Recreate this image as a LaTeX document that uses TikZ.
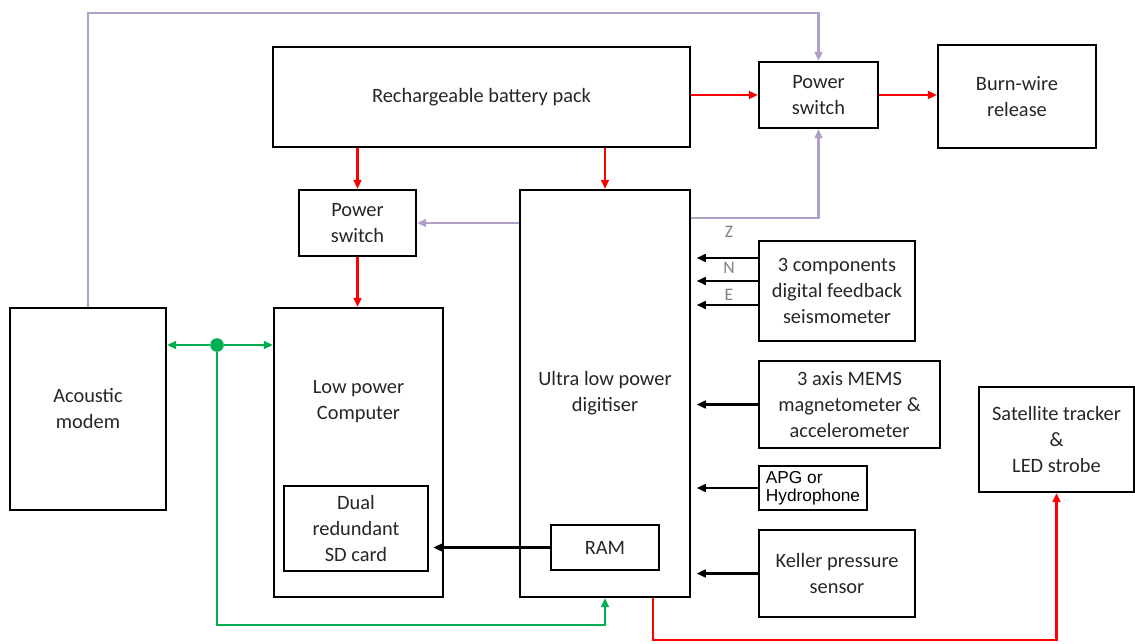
\documentclass[tikz,border=0pt]{standalone}
\usepackage{fontspec}
\setmainfont{Carlito}
\newfontfamily\arialfont{Liberation Sans}
\usetikzlibrary{arrows.meta}
\definecolor{txtgray}{RGB}{38,38,38}
\definecolor{lila}{RGB}{177,160,199}
\definecolor{grn}{RGB}{0,176,80}
\definecolor{rd}{RGB}{255,0,0}

\begin{document}
\begin{tikzpicture}[x=0.025cm, y=-0.025cm, >={Triangle[length=6.5pt,width=5.5pt]},
  box/.style={draw, rectangle, line width=1.4pt, inner sep=0pt, align=center, text=txtgray, font=\fontsize{14.5}{18.5}\selectfont},
  txt/.style={align=center, text=txtgray, font=\fontsize{14.5}{18.5}\selectfont},
  axis/.style={text=gray, font=\fontsize{12.5}{14}\selectfont},
  pw/.style={->, rd, line width=1.6pt},
  ctl/.style={->, lila, line width=1.6pt},
  dat/.style={->, black, line width=1.6pt, shorten >=4pt},
  com/.style={->, grn, line width=1.6pt}]
\useasboundingbox (0,0) rectangle (1135,643);

% blocks
\node (bat)  [box, minimum width=10.425cm, minimum height=2.5cm]   at (481.5,97)  {Rechargeable battery pack};
\node (sw1)  [box, minimum width=2.975cm,  minimum height=1.65cm]  at (818.5,95)  {Power\\switch};
\node (burn) [box, minimum width=3.95cm,   minimum height=2.575cm] at (1017,96.5) {Burn-wire\\release};
\node (sw2)  [box, minimum width=2.925cm,  minimum height=1.65cm]  at (357.5,223) {Power\\switch};
\node (dig)  [box, minimum width=4.25cm,   minimum height=10.175cm] at (605,393.5) {Ultra low power\\digitiser};
\node (modem)[box, minimum width=3.9cm,    minimum height=5.05cm]  at (88,409)    {Acoustic\\modem};
\node (comp) [box, minimum width=4.225cm,  minimum height=7.225cm] at (358.5,452.5) {};
\node (comptxt) [txt] at (358.5,402) {Low power\\Computer};
\node (sd)   [box, minimum width=3.6cm,    minimum height=2.125cm] at (356,528.5) {Dual\\redundant\\SD card};
\node (ram)  [box, minimum width=2.7cm,    minimum height=1.125cm] at (605,547.5) {RAM};
\node (seis) [box, minimum width=3.9cm,    minimum height=2.5cm]   at (837,291)   {3 components\\digital feedback\\seismometer};
\node (mems) [box, minimum width=4.525cm,  minimum height=2.175cm] at (849.5,404.5) {3 axis MEMS\\magnetometer \&\\accelerometer};
\node (apg)  [box, minimum width=2.7cm,    minimum height=1.1cm, align=left, text=black,
              font=\arialfont\fontsize{12.3}{13}\selectfont]       at (813,488)   {APG or\\Hydrophone};
\node (kel)  [box, minimum width=3.9cm,    minimum height=2.175cm] at (837,573.5) {Keller pressure\\sensor};
\node (sat)  [box, minimum width=3.875cm,  minimum height=2.625cm] at (1056.5,439.5) {Satellite tracker\\\&\\LED strobe};

% power lines
\draw[pw] (bat.east |- sw1.west) -- (sw1.west);
\draw[pw] (sw1.east) -- (burn.west |- sw1.east);
\draw[pw] (sw2.north |- bat.south) -- (sw2.north);
\draw[pw] (bat.south -| dig.north) -- (dig.north);
\draw[pw] (sw2.south) -- (sw2.south |- comp.north);
\draw[pw] (dig.south -| 653,0) -- (653,640) -| (sat.south);

% switch control
\draw[ctl] (modem.north) -- (88,13) -| (sw1.north);
\draw[ctl] (dig.east |- 0,218) -| (sw1.south);
\draw[ctl] (dig.west |- sw2.east) -- (sw2.east);

% sensor data
\foreach \yy in {258,281,305}
  \draw[dat] (seis.west |- 0,\yy) -- (dig.east |- 0,\yy);
\node (z) [axis] at (729,232) {Z};
\node (n) [axis] at (729,268) {N};
\node (e) [axis] at (729,295) {E};
\draw[dat] (mems.west) -- (dig.east |- mems.west);
\draw[dat] (apg.west) -- (dig.east |- apg.west);
\draw[dat] (kel.west) -- (dig.east |- kel.west);
\draw[dat, shorten >=3pt] (ram.west) -- (sd.east |- ram.west);

% modem link
\node (hub) [circle, fill=grn, inner sep=0pt, minimum size=0.34cm] at (217,345) {};
\draw[com] (hub) -- (modem.east |- hub);
\draw[com] (hub) -- (comp.west |- hub);
\draw[com] (hub) -- (hub |- 0,625) -| (dig.south);
\end{tikzpicture}
\end{document}
